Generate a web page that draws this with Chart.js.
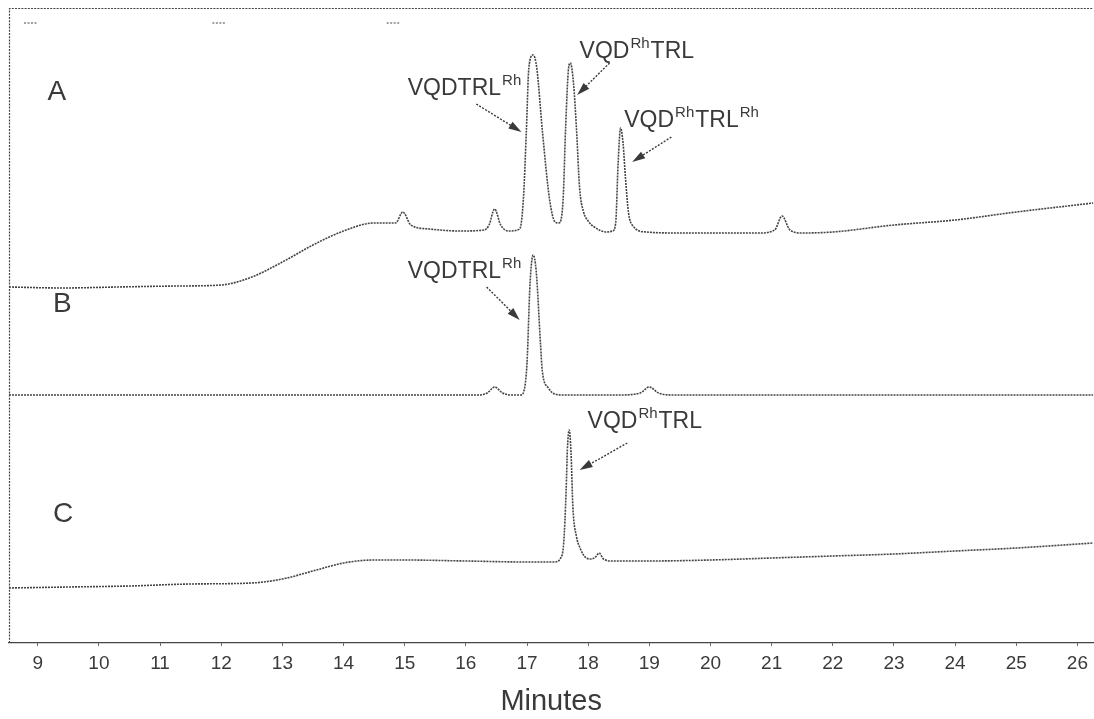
<!DOCTYPE html>
<html>
<head>
<meta charset="utf-8">
<script src="https://cdn.jsdelivr.net/npm/chart.js@4/dist/chart.umd.min.js"></script>
<style>
  html, body { margin: 0; padding: 0; background: #fff; }
  canvas { display: block; }
</style>
</head>
<body>
<canvas id="hplc" width="1094" height="719"></canvas>
<script>
// Retention time axis (minutes)
const tickMinutes = [9, 10, 11, 12, 13, 14, 15, 16, 17, 18, 19, 20, 21, 22, 23, 24, 25, 26];

// Trace A: reaction mixture (stacked detector response, arbitrary units)
const timeA = [8.53, 9.4, 10.3, 11.3, 12.0, 12.5, 13.0, 13.5, 14.0, 14.5, 14.85, 14.97, 15.1, 15.4, 15.9, 16.3, 16.38, 16.47, 16.57, 16.7, 16.88, 16.94, 16.99, 17.03, 17.10, 17.16, 17.25, 17.37, 17.46, 17.52, 17.59, 17.63, 17.68, 17.71, 17.76, 17.81, 17.86, 17.92, 18.00, 18.10, 18.30, 18.40, 18.45, 18.49, 18.53, 18.57, 18.61, 18.66, 18.72, 18.95, 19.5, 20.2, 20.8, 21.05, 21.17, 21.3, 21.5, 22.0, 23.0, 24.0, 25.0, 26.26];
const signalA = [356, 355, 356, 357, 358, 366, 381, 398, 412, 420, 420, 431, 418, 414, 412, 413, 418, 434, 418, 412, 414, 443, 513, 575, 588, 575, 513, 443, 421, 420, 443, 513, 575, 580, 560, 513, 455, 432, 422, 416, 411, 412, 420, 480, 515, 500, 465, 430, 418, 411, 410, 410, 410, 413, 427, 413, 410, 411, 418, 423, 431, 440];

// Trace B: VQDTRL-Rh standard
const timeB = [8.53, 10.0, 12.0, 14.0, 16.2, 16.35, 16.47, 16.6, 16.75, 16.9, 16.95, 17.00, 17.05, 17.10, 17.15, 17.22, 17.25, 17.35, 17.45, 17.60, 18.5, 18.85, 19.0, 19.15, 19.4, 22.0, 26.26];
const signalB = [248, 248, 248, 248, 248, 250, 256, 250, 248, 248, 252, 280, 360, 388, 372, 300, 272, 255, 249, 248, 248, 250, 256, 250, 248, 248, 248];

// Trace C: VQD-Rh-TRL standard
const timeC = [8.53, 9.5, 10.5, 11.5, 12.5, 13.0, 13.5, 14.0, 14.5, 15.0, 16.0, 17.0, 17.45, 17.55, 17.60, 17.64, 17.66, 17.69, 17.72, 17.75, 17.81, 17.86, 17.97, 18.05, 18.12, 18.18, 18.25, 18.4, 19.0, 20.0, 21.0, 22.0, 23.0, 24.0, 25.0, 26.26];
const signalC = [55, 56, 57, 59, 60, 64, 72, 80, 83, 83, 82, 81, 81, 85, 100, 153, 193, 213, 190, 136, 106, 96, 85, 84, 86, 90, 84, 82, 82, 83, 85, 87, 89, 92, 95, 100];

// Panel letters and peak assignments
const panelLetters = ['A', 'B', 'C'];
const peakNames = [
  [['VQDTRL', ''], ['Rh', 'sup']],
  [['VQD', ''], ['Rh', 'sup'], ['TRL', '']],
  [['VQD', ''], ['Rh', 'sup'], ['TRL', ''], ['Rh', 'sup']],
  [['VQDTRL', ''], ['Rh', 'sup']],
  [['VQD', ''], ['Rh', 'sup'], ['TRL', '']]
];
// short event marks along the top of the run
const eventMarks = [8.89, 11.97, 14.82];

const toPoints = (t, s) => t.map((v, i) => ({ x: v, y: s[i] }));

const FONT = "'Liberation Sans', Arial, Helvetica, sans-serif";
const INK = '#3a3a3a';

// placement of letters and labels in (minutes, response) coordinates
const letterAnchors = [[9.16, 543], [9.25, 331], [9.25, 121]];
const labelAnchors = [
  { text: [15.05, 548], from: [16.17, 539], to: [16.91, 511] },
  { text: [17.86, 585], from: [18.35, 580], to: [17.82, 548] },
  { text: [18.59, 516], from: [19.36, 506], to: [18.72, 481] },
  { text: [15.05, 365], from: [16.34, 356], to: [16.88, 323] },
  { text: [17.99, 215], from: [18.64, 200], to: [17.86, 173] }
];

function drawArrow(ctx, x1, y1, x2, y2) {
  const ang = Math.atan2(y2 - y1, x2 - x1);
  const headLen = 13, headW = 4;
  ctx.save();
  ctx.strokeStyle = INK;
  ctx.lineWidth = 1.4;
  ctx.setLineDash([2, 1.5]);
  ctx.beginPath();
  ctx.moveTo(x1, y1);
  ctx.lineTo(x2 - Math.cos(ang) * headLen * 0.6, y2 - Math.sin(ang) * headLen * 0.6);
  ctx.stroke();
  ctx.setLineDash([]);
  ctx.fillStyle = INK;
  ctx.beginPath();
  ctx.moveTo(x2, y2);
  ctx.lineTo(x2 - Math.cos(ang) * headLen - Math.sin(ang) * headW, y2 - Math.sin(ang) * headLen + Math.cos(ang) * headW);
  ctx.lineTo(x2 - Math.cos(ang) * headLen + Math.sin(ang) * headW, y2 - Math.sin(ang) * headLen - Math.cos(ang) * headW);
  ctx.closePath();
  ctx.fill();
  ctx.restore();
}

const annotationPlugin = {
  id: 'chromAnnotations',
  afterDraw(chart) {
    const { ctx, chartArea, scales } = chart;
    const xs = scales.x, ys = scales.y;
    ctx.save();

    // frame: left and top edges
    ctx.strokeStyle = '#444';
    ctx.lineWidth = 1.2;
    ctx.setLineDash([2, 1.2]);
    ctx.beginPath();
    ctx.moveTo(chartArea.left + 0.5, chartArea.bottom);
    ctx.lineTo(chartArea.left + 0.5, chartArea.top + 0.5);
    ctx.lineTo(chartArea.right, chartArea.top + 0.5);
    ctx.stroke();

    // event marks
    ctx.lineWidth = 1;
    ctx.setLineDash([2, 1.5]);
    eventMarks.forEach(t => {
      const px = xs.getPixelForValue(t);
      const py = chartArea.top + 15;
      ctx.beginPath();
      ctx.moveTo(px - 7, py);
      ctx.lineTo(px + 7, py);
      ctx.stroke();
    });
    ctx.setLineDash([]);

    // panel letters
    ctx.fillStyle = INK;
    ctx.textBaseline = 'alphabetic';
    ctx.textAlign = 'left';
    ctx.font = `28px ${FONT}`;
    panelLetters.forEach((l, i) => {
      const [t, v] = letterAnchors[i];
      ctx.fillText(l, xs.getPixelForValue(t), ys.getPixelForValue(v));
    });

    // peak labels with arrows
    peakNames.forEach((parts, i) => {
      const a = labelAnchors[i];
      let px = xs.getPixelForValue(a.text[0]);
      const py = ys.getPixelForValue(a.text[1]);
      parts.forEach(([s, kind]) => {
        if (kind === 'sup') {
          ctx.font = `15px ${FONT}`;
          ctx.fillText(s, px + 1, py - 10);
          px += ctx.measureText(s).width + 2;
        } else {
          ctx.font = `23px ${FONT}`;
          ctx.fillText(s, px, py);
          px += ctx.measureText(s).width;
        }
      });
      drawArrow(ctx,
        xs.getPixelForValue(a.from[0]), ys.getPixelForValue(a.from[1]),
        xs.getPixelForValue(a.to[0]), ys.getPixelForValue(a.to[1]));
    });
    ctx.restore();
  }
};

const traceStyle = {
  borderColor: '#444',
  borderWidth: 1.6,
  borderDash: [2, 1],
  pointRadius: 0,
  fill: false,
  cubicInterpolationMode: 'monotone'
};

new Chart(document.getElementById('hplc'), {
  type: 'line',
  data: {
    datasets: [
      { label: 'A', data: toPoints(timeA, signalA), ...traceStyle },
      { label: 'B', data: toPoints(timeB, signalB), ...traceStyle },
      { label: 'C', data: toPoints(timeC, signalC), ...traceStyle }
    ]
  },
  options: {
    responsive: false,
    animation: false,
    layout: { padding: { left: 9, top: 8, right: 0, bottom: 0 } },
    plugins: { legend: { display: false }, tooltip: { enabled: false } },
    scales: {
      x: {
        type: 'linear',
        min: 8.53,
        max: 26.26,
        afterBuildTicks: s => { s.ticks = tickMinutes.map(v => ({ value: v })); },
        afterFit: s => { s.height = 76; },
        grid: { display: true, drawOnChartArea: false, drawTicks: true, tickLength: 3, color: '#666' },
        border: { display: true, color: '#444', width: 1.2, dash: [2, 1.2] },
        ticks: {
          autoSkip: false, maxRotation: 0, padding: 6,
          color: INK, font: { family: FONT, size: 19 },
          callback: v => String(v)
        },
        title: {
          display: true, text: 'Minutes', color: INK,
          font: { family: FONT, size: 29 }, padding: { top: 6, bottom: 0 }
        }
      },
      y: { display: false, min: 0, max: 635 }
    }
  },
  plugins: [annotationPlugin]
});
</script>
</body>
</html>
